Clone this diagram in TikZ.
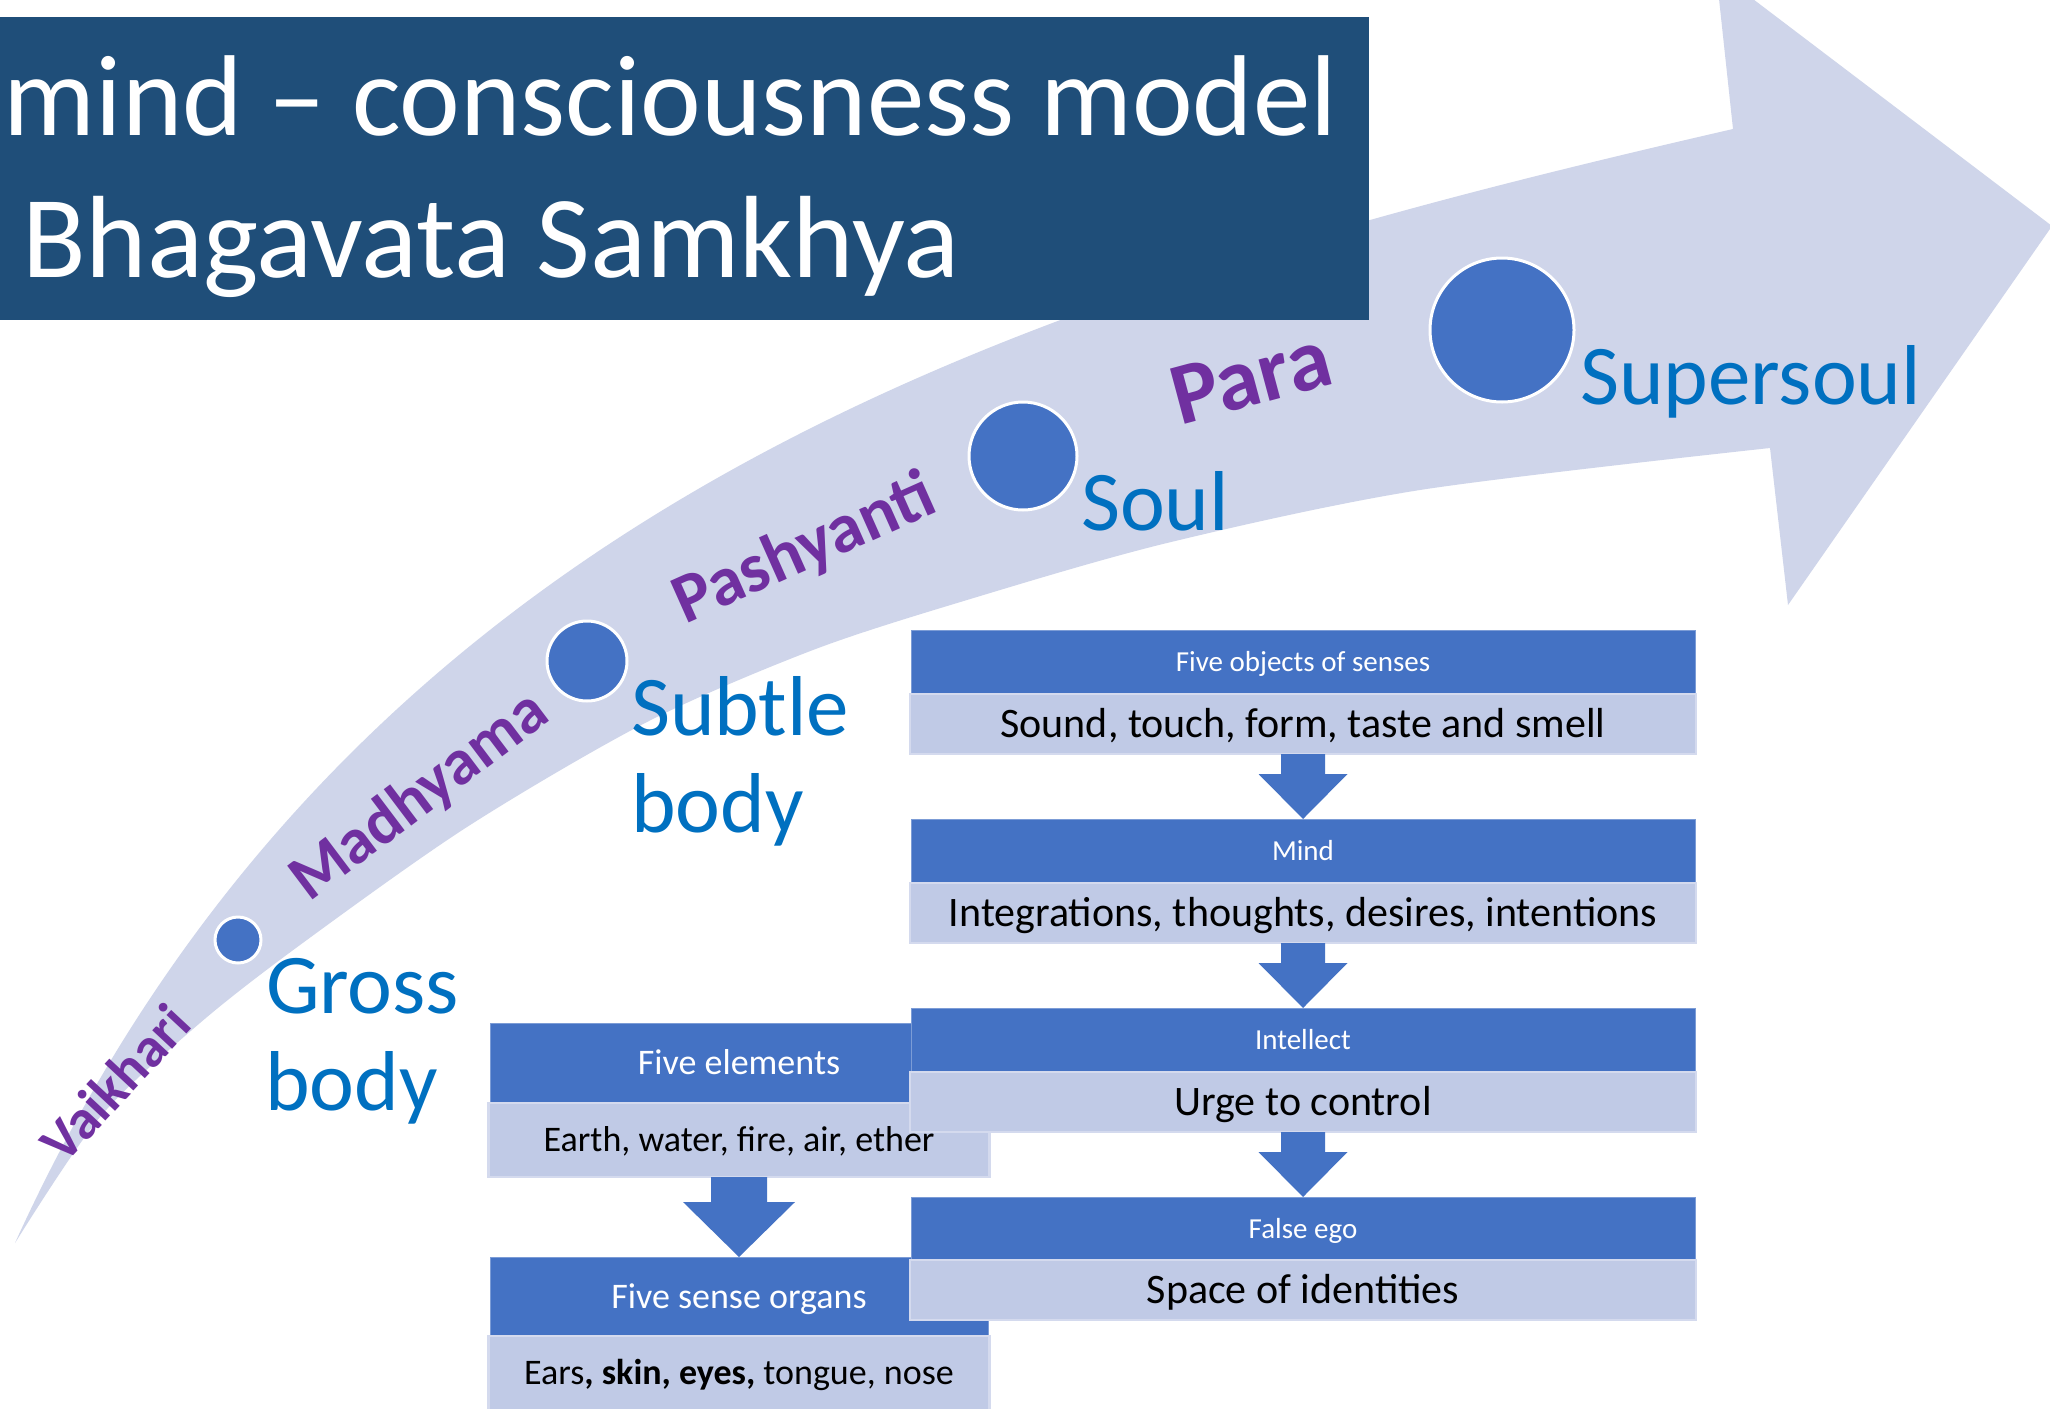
\documentclass[tikz,border=0pt]{standalone}
\usepackage{fontspec}
\setmainfont{Carlito}
\usetikzlibrary{calc}
\definecolor{band}{HTML}{CFD5EA}
\definecolor{titlebg}{HTML}{1F4E79}
\definecolor{hdr}{HTML}{4472C4}
\definecolor{bodyc}{HTML}{C0CAE6}
\definecolor{bodyline}{HTML}{D4DAEE}
\definecolor{blu}{HTML}{0070C0}
\definecolor{purp}{HTML}{7030A0}
\begin{document}
\begin{tikzpicture}[x=1pt,y=-1pt,
  every node/.style={inner sep=0pt, outer sep=0pt},
  stage/.style={font=\fontsize{85}{97}\selectfont, text=blu, anchor=base west},
  speech/.style={text=purp, anchor=center},
  dot/.style={circle, fill=hdr, draw=white, line width=3pt},
  hR/.style={fill=hdr, draw=hdr!70!white, line width=1pt, minimum width=784pt, minimum height=64pt,
    text=white, font=\fontsize{29}{35}\selectfont, text height=19pt, text depth=0pt},
  bR/.style={fill=bodyc, draw=bodyline, line width=2.5pt, minimum width=786pt, minimum height=60pt,
    font=\fontsize{42}{50}\selectfont, text height=27pt, text depth=0pt},
  hL/.style={fill=hdr, draw=hdr!70!white, line width=1pt, minimum width=498pt, minimum height=80pt,
    text=white, font=\fontsize{36}{43}\selectfont, text height=23pt, text depth=0pt},
  bL/.style={fill=bodyc, draw=bodyline, line width=2.5pt, minimum width=501pt, minimum height=74pt,
    font=\fontsize{36}{43}\selectfont, text height=23pt, text depth=0pt},
  blockarrow/.style={fill=hdr}
]
\useasboundingbox (0,0) rectangle (2050,1408);
\fill[white] (0,0) rectangle (2050,1408);

% big curved arrow
\fill[band] (15,1243) .. controls (355,495) and (1033,290) .. (1733,129)
  -- (1716,-29) -- (2052,226) -- (1788,605) -- (1770,448)
  -- plot[smooth] coordinates {(1770,448) (1420,490) (1167,543) (967,600) (813,650) (647,722) (467,827) (300,945) (200,1023) (100,1117) (15,1243)}
  -- cycle;

% title
\node[fill=titlebg, minimum width=1369pt, minimum height=303pt, anchor=north west] (titlebox) at (0,17) {};
\node[anchor=base west, text=white, font=\fontsize{115}{138}\selectfont] (title1) at (4,135) {mind – consciousness model};
\node[anchor=base west, text=white, font=\fontsize{117}{138}\selectfont] (title2) at (22,277) {Bhagavata Samkhya};

% circles
\node[dot, minimum size=46pt] (cgross) at (238,940) {};
\node[dot, minimum size=80pt] (csubtle) at (587,661) {};
\node[dot, minimum size=108pt] (csoul) at (1023,456) {};
\node[dot, minimum size=144pt] (csuper) at (1502,330) {};

% stage labels
\node[stage] (gross1) at (266,1013) {Gross};
\node[stage] (gross2) at (265,1110) {body};
\node[stage] (subtle1) at (631,735) {Subtle};
\node[stage] (subtle2) at (631,832) {body};
\node[stage] (soul) at (1081,530) {Soul};
\node[stage] (supersoul) at (1580,404) {Supersoul};

% speech levels
\node[speech, font=\bfseries\fontsize{56}{60}\selectfont, rotate=47] (vaikhari) at (115,1083) {Vaikhari};
\node[speech, font=\bfseries\fontsize{65}{70}\selectfont, rotate=37] (madhyama) at (420,797) {Madhyama};
\node[speech, font=\bfseries\fontsize{70}{75}\selectfont, rotate=24] (pashyanti) at (805,550) {Pashyanti};
\node[speech, font=\bfseries\fontsize{88}{95}\selectfont, rotate=15] (para) at (1251,377) {Para};

% left column
\node[hL] (elemH) at (739,1063) {Five elements};
\node[bL] (elemB) at (739,1140) {Earth, water, fire, air, ether};
\node[hL] (senseH) at (739,1297) {Five sense organs};
\node[bL] (senseB) at (739,1373) {Ears\textbf{, skin, eyes,} tongue, nose};

% right column
\node[hR] (objH) at (1303,662) {Five objects of senses};
\node[bR] (objB) at (1303,724) {Sound, touch, form, taste and smell};
\node[hR] (mindH) at (1303,851) {Mind};
\node[bR] (mindB) at (1303,913) {Integrations, thoughts, desires, intentions};
\node[hR] (intH) at (1303,1040) {Intellect};
\node[bR] (intB) at (1303,1102) {Urge to control};
\node[hR] (egoH) at (1303,1229) {False ego};
\node[bR] (egoB) at (1303,1290) {Space of identities};

% block arrows
\fill[blockarrow] ($(elemB.south)+(-28,0)$) -- ($(elemB.south)+(-28,25)$) -- ($(elemB.south)+(-56,25)$)
  -- (senseH.north) -- ($(elemB.south)+(56,25)$) -- ($(elemB.south)+(28,25)$) -- ($(elemB.south)+(28,0)$) -- cycle;
\foreach \a/\b in {objB/mindH, mindB/intH, intB/egoH}{
  \fill[blockarrow] ($(\a.south)+(-22,0)$) -- ($(\a.south)+(-22,20)$) -- ($(\a.south)+(-44.5,20)$)
    -- (\b.north) -- ($(\a.south)+(44.5,20)$) -- ($(\a.south)+(22,20)$) -- ($(\a.south)+(22,0)$) -- cycle;
}
\end{tikzpicture}
\end{document}
